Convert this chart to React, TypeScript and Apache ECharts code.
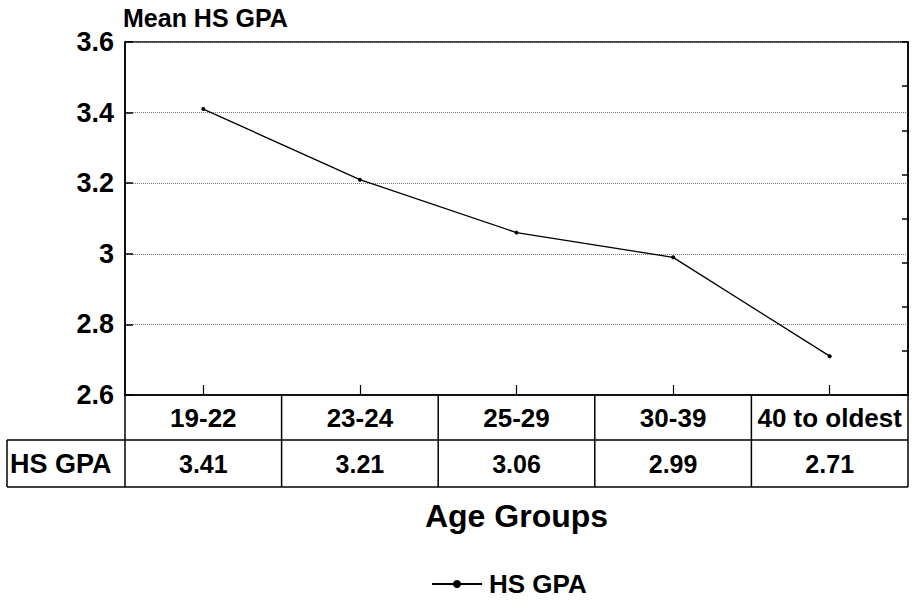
import React, { useEffect, useRef } from "react";
import * as echarts from "echarts";

const categories = ["19-22", "23-24", "25-29", "30-39", "40 to oldest"];
const gpaValues = [3.41, 3.21, 3.06, 2.99, 2.71];
const seriesName = "HS GPA";
const yMin = 2.6;
const yMax = 3.6;
const yInterval = 0.2;

const FONT = "'Liberation Sans', Arial, Helvetica, sans-serif";

export default function App() {
  const ref = useRef<HTMLDivElement>(null);

  useEffect(() => {
    if (!ref.current) return;
    const chart = echarts.init(ref.current, null, { renderer: "svg" });
    const option: any = {
      animation: false,
      backgroundColor: "#ffffff",
      textStyle: { fontFamily: FONT, color: "#000" },
      grid: {
        left: 125,
        right: 6,
        top: 42,
        bottom: 206,
        show: true,
        borderColor: "#000",
        borderWidth: 1.5,
        containLabel: false,
      },
      legend: {
        show: true,
        left: 426,
        top: 566,
        itemWidth: 50,
        itemHeight: 10,
        textStyle: {
          fontFamily: FONT,
          fontWeight: "bold",
          fontSize: 26,
          color: "#000",
          padding: [0, 0, 0, 2],
        },
        data: [seriesName],
      },
      xAxis: [
        {
          type: "category",
          data: categories,
          gridIndex: 0,
          boundaryGap: true,
          position: "bottom",
          axisLine: { show: true, lineStyle: { color: "#000", width: 1.5 } },
          axisTick: {
            show: true,
            inside: true,
            length: 10,
            alignWithLabel: true,
            lineStyle: { color: "#000", width: 1.2 },
          },
          axisLabel: {
            show: true,
            margin: 10,
            interval: 0,
            fontFamily: FONT,
            fontWeight: "bold",
            fontSize: 26,
            color: "#000",
          },
          splitLine: { show: false },
          name: "Age Groups",
          nameLocation: "middle",
          nameGap: 105,
          nameTextStyle: {
            fontFamily: FONT,
            fontWeight: "bold",
            fontSize: 32,
            color: "#000",
          },
        },
        {
          type: "category",
          data: gpaValues.map((v) => v.toFixed(2)),
          gridIndex: 0,
          boundaryGap: true,
          position: "bottom",
          offset: 46,
          axisLine: { show: false },
          axisTick: { show: false },
          axisLabel: {
            show: true,
            margin: 10,
            interval: 0,
            fontFamily: FONT,
            fontWeight: "bold",
            fontSize: 25,
            color: "#000",
          },
          splitLine: { show: false },
        },
      ],
      yAxis: [
        {
          type: "value",
          min: yMin,
          max: yMax,
          interval: yInterval,
          position: "left",
          name: "Mean HS GPA",
          nameLocation: "end",
          nameGap: 12,
          nameTextStyle: {
            fontFamily: FONT,
            fontWeight: "bold",
            fontSize: 25,
            color: "#000",
            align: "left",
            padding: [0, 0, 0, -2],
          },
          axisLine: { show: true, lineStyle: { color: "#000", width: 1.5 } },
          axisTick: {
            show: true,
            inside: true,
            length: 8,
            lineStyle: { color: "#000", width: 1.5 },
          },
          axisLabel: {
            margin: 11,
            fontFamily: FONT,
            fontWeight: "bold",
            fontSize: 27,
            color: "#000",
            formatter: (v: number) => String(Math.round(v * 10) / 10),
          },
          splitLine: {
            show: true,
            lineStyle: { color: "#777", type: "dotted", width: 1 },
          },
        },
        {
          type: "value",
          min: 0,
          max: 8,
          interval: 1,
          position: "right",
          axisLine: { show: true, lineStyle: { color: "#000", width: 1.5 } },
          axisTick: {
            show: true,
            inside: true,
            length: 6,
            lineStyle: { color: "#000", width: 1.5 },
          },
          axisLabel: { show: false },
          splitLine: { show: false },
        },
      ],
      series: [
        {
          name: seriesName,
          type: "line",
          xAxisIndex: 0,
          yAxisIndex: 0,
          data: gpaValues,
          symbol: "circle",
          symbolSize: 4,
          showSymbol: true,
          lineStyle: { color: "#000", width: 1.3 },
          itemStyle: { color: "#000" },
          label: { show: false },
        },
      ],
    };
    chart.setOption(option);

    // Data table grid built from the category axis scale
    const c0 = chart.convertToPixel({ xAxisIndex: 0 }, 0) as number;
    const c1 = chart.convertToPixel({ xAxisIndex: 0 }, 1) as number;
    const band = c1 - c0;
    const left = c0 - band / 2;
    const bounds = [0, ...categories.map((_, i) => i + 1)].map((i) => left + band * i);
    const right = bounds[bounds.length - 1];
    const yBottom = chart.convertToPixel({ yAxisIndex: 0 }, yMin) as number;
    const rowMid = yBottom + 45;
    const rowEnd = yBottom + 92;
    const labelLeft = 7;
    const ls = { stroke: "#000", lineWidth: 1.5 };
    const elements: any[] = [];
    bounds.forEach((bx) => {
      elements.push({
        type: "line",
        shape: { x1: bx, y1: yBottom, x2: bx, y2: rowEnd },
        style: ls,
      });
    });
    elements.push({ type: "line", shape: { x1: labelLeft, y1: rowMid, x2: right, y2: rowMid }, style: ls });
    elements.push({ type: "line", shape: { x1: labelLeft, y1: rowEnd, x2: right, y2: rowEnd }, style: ls });
    elements.push({ type: "line", shape: { x1: labelLeft, y1: rowMid, x2: labelLeft, y2: rowEnd }, style: ls });
    elements.push({
      type: "text",
      x: labelLeft + 3,
      y: (rowMid + rowEnd) / 2,
      style: {
        text: seriesName,
        fontFamily: FONT,
        fontWeight: "bold",
        fontSize: 27,
        fill: "#000",
        textAlign: "left",
        textVerticalAlign: "middle",
      },
    });
    chart.setOption({ graphic: elements });

    return () => chart.dispose();
  }, []);

  return (
    <div
      ref={ref}
      style={{ position: "fixed", left: 0, top: 0, width: 914, height: 601, background: "#fff" }}
    />
  );
}
